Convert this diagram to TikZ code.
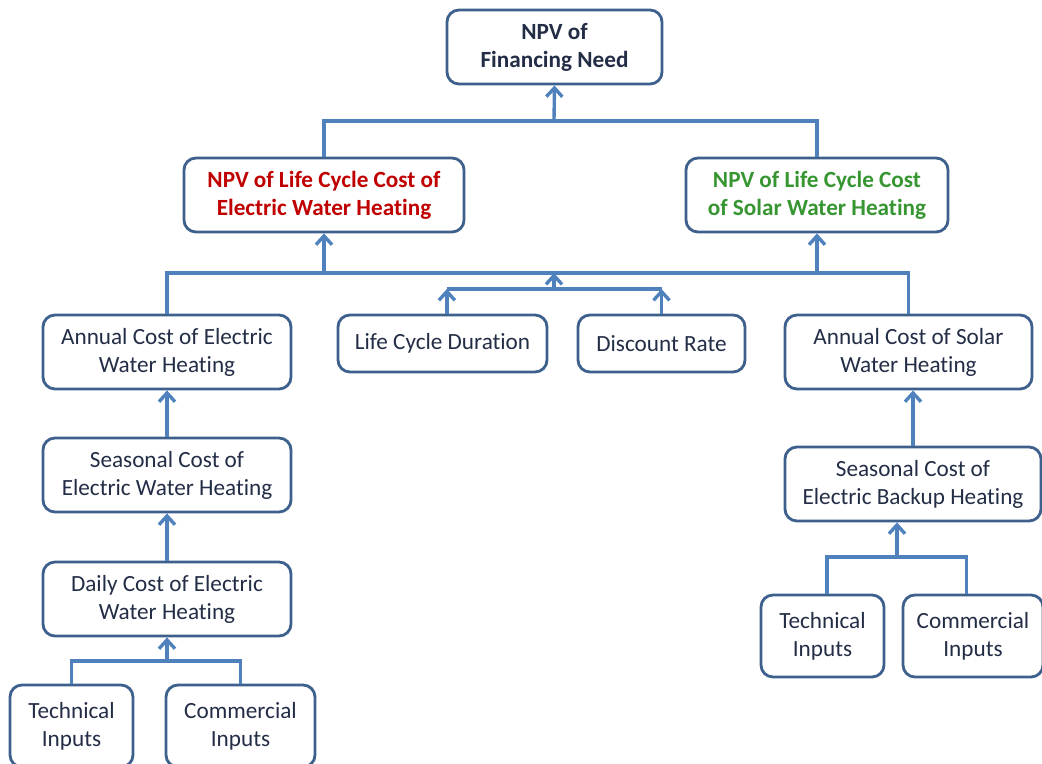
\documentclass[tikz,border=0pt]{standalone}
\usepackage{fontspec}
\setmainfont{Carlito}[Ligatures={NoCommon,NoRare}]
\usepackage{xcolor}
\usepackage{tikz}
\usetikzlibrary{arrows.meta,positioning}

\definecolor{lineblue}{RGB}{79,129,189}
\definecolor{boxblue}{RGB}{62,96,140}
\definecolor{inktext}{RGB}{35,45,70}
\definecolor{costred}{RGB}{192,0,0}
\definecolor{costgreen}{RGB}{55,150,50}

\tikzset{
  box/.style={draw=boxblue, line width=2pt, rounded corners=0.3cm, fill=white,
    align=center, inner sep=0pt, text=inktext, font=\fontsize{16.5}{20}\selectfont},
  headbox/.style={box, font=\bfseries\fontsize{16.5}{20}\selectfont},
  link/.style={draw=lineblue, line width=2.4pt},
  up/.style={link, -{Straight Barb[length=0.22cm, width=0.4cm, line width=2.4pt]}}
}

\begin{document}
\begin{tikzpicture}[x=0.025cm, y=-0.025cm]
        \useasboundingbox (0,0) rectangle (1042,764);

        % top of the tree
        \node[headbox, minimum width=5.375cm, minimum height=1.85cm] (need) at (554.5,47) {NPV of\\Financing Need};
        \node[headbox, text=costred, minimum width=7cm, minimum height=1.85cm] (elec) at (324,195) {NPV of Life Cycle Cost of\\Electric Water Heating};
        \node[headbox, text=costgreen, minimum width=6.55cm, minimum height=1.85cm] (solar) at (817,195) {NPV of Life Cycle Cost\\of Solar Water Heating};

        % middle row
        \node[box, minimum width=6.2cm, minimum height=1.85cm] (annElec) at (167,352) {Annual Cost of Electric\\Water Heating};
        \node[box, minimum width=5.225cm, minimum height=1.425cm] (dur) at (442.5,343.5) {Life Cycle Duration};
        \node[box, minimum width=4.175cm, minimum height=1.425cm] (rate) at (661.5,343.5) {Discount Rate};
        \node[box, minimum width=6.175cm, minimum height=1.85cm] (annSolar) at (908.5,352) {Annual Cost of Solar\\Water Heating};

        % electric branch
        \node[box, minimum width=6.2cm, minimum height=1.85cm] (seasElec) at (167,475) {Seasonal Cost of\\Electric Water Heating};
        \node[box, minimum width=6.2cm, minimum height=1.85cm] (daily) at (167,599) {Daily Cost of Electric\\Water Heating};
        \node[box, minimum width=3.075cm, minimum height=2.05cm] (techElec) at (71.5,726) {Technical\\Inputs};
        \node[box, minimum width=3.725cm, minimum height=2.05cm] (comElec) at (240.5,726) {Commercial\\Inputs};

        % solar branch
        \node[box, minimum width=6.4cm, minimum height=1.85cm] (seasSolar) at (913,484) {Seasonal Cost of\\Electric Backup Heating};
        \node[box, minimum width=3.075cm, minimum height=2.05cm] (techSolar) at (822.5,636) {Technical\\Inputs};
        \node[box, minimum width=3.5cm, minimum height=2.05cm] (comSolar) at (973,636) {Commercial\\Inputs};

        % joints
        \coordinate (topJoin) at (554,121);
        \coordinate (midJoin) at (554,273);
        \coordinate (rateJoin) at (554,289);
        \coordinate (elecJoin) at (167,661);
        \coordinate (solarJoin) at (897,557);

        \draw[link] (elec.north) |- (topJoin) -| (solar.north);
        \draw[up] (topJoin) -- (need.south);

        \draw[link] (annElec.north) |- (midJoin) -| (annSolar.north);
        \draw[up] (elec.south |- midJoin) -- (elec.south);
        \draw[up] (solar.south |- midJoin) -- (solar.south);

        \draw[link] ([xshift=0.11cm]dur.north |- rateJoin) -- (rate.north |- rateJoin);
        \draw[up] ([xshift=0.11cm]dur.north) -- ([xshift=0.11cm]dur.north |- rateJoin);
        \draw[up] (rate.north) -- (rate.north |- rateJoin);
        \draw[up] (rateJoin) -- (midJoin);

        \draw[up] (seasElec) -- (annElec);
        \draw[up] (daily) -- (seasElec);
        \draw[link] (techElec.north) |- (elecJoin) -| (comElec.north);
        \draw[up] (elecJoin) -- (daily.south);

        \draw[up] (seasSolar.north) -- (seasSolar.north |- annSolar.south);
        \draw[link] ([xshift=0.11cm]techSolar.north) |- (solarJoin) -| ([xshift=-0.17cm]comSolar.north);
        \draw[up] (solarJoin) -- (solarJoin |- seasSolar.south);
\end{tikzpicture}
\end{document}
